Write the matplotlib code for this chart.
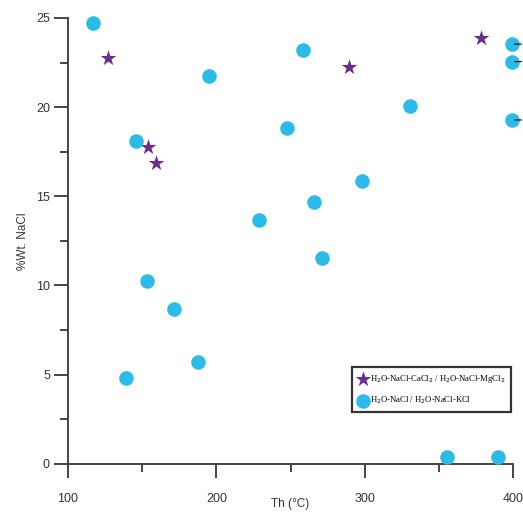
import matplotlib
matplotlib.use('Agg')
import matplotlib.pyplot as plt

# H2O-NaCl / H2O-NaCl-KCl inclusions
th_nacl = [116.9, 195.3, 145.8, 258.2, 247.8, 330.8, 298.4, 266.0, 229.0, 271.0,
           153.5, 171.3, 187.6, 138.9, 355.7, 389.7, 399.1, 399.1, 399.1]
wt_nacl = [24.70, 21.77, 18.10, 23.20, 18.85, 20.07, 15.86, 14.70, 13.68, 11.55,
           10.26, 8.67, 5.73, 4.82, 0.38, 0.38, 23.53, 22.55, 19.28]

# H2O-NaCl-CaCl2 / H2O-NaCl-MgCl2 inclusions
th_ca = [126.8, 154.1, 159.1, 289.6, 378.4]
wt_ca = [22.76, 17.79, 16.86, 22.27, 23.86]

x_ticks = [100, 200, 300, 400]
y_ticks = [0, 5, 10, 15, 20, 25]

plt.rcParams['font.family'] = ['Liberation Sans', 'DejaVu Sans']

fig = plt.figure(figsize=(5.23, 5.12), dpi=100)
ax = fig.add_axes([0.130, 0.094, 0.851, 0.871])

ax.scatter(th_ca, wt_ca, marker='*', s=140, color='#6b2c8e', linewidths=0,
           label='H$_2$O-NaCl-CaCl$_2$ / H$_2$O-NaCl-MgCl$_2$', clip_on=False, zorder=3)
ax.scatter(th_nacl, wt_nacl, marker='o', s=110, color='#2bbbe8', linewidths=0,
           label='H$_2$O-NaCl / H$_2$O-NaCl-KCl', clip_on=False, zorder=3)

# little dashes on the points at the right edge
for x, y in zip(th_nacl, wt_nacl):
    if x > 398:
        ax.annotate('', xy=(x, y), xytext=(9, 0), textcoords='offset points',
                    arrowprops=dict(arrowstyle='-', color='#222222', lw=0.9),
                    annotation_clip=False)

ax.set_xlim(100, 400)
ax.set_ylim(0, 25)
ax.set_xticks(x_ticks)
ax.set_yticks(y_ticks)
ax.set_xticks([150, 250, 350], minor=True)
ax.set_yticks([2.5, 7.5, 12.5, 17.5, 22.5], minor=True)

for s in ['top', 'right']:
    ax.spines[s].set_visible(False)
for s in ['left', 'bottom']:
    ax.spines[s].set_color('#4a4440')
    ax.spines[s].set_linewidth(1.4)

ax.tick_params(axis='both', which='major', length=10, width=1.4, color='#4a4440',
               labelsize=9, labelcolor='#333333')
ax.tick_params(axis='both', which='minor', length=6, width=1.4, color='#4a4440')
ax.tick_params(axis='x', which='major', pad=11)
ax.tick_params(axis='y', which='major', pad=3)

ax.set_xlabel('Th (°C)', fontsize=8.5, color='#333333', labelpad=-5)
ax.set_ylabel('%Wt. NaCl', fontsize=8.5, color='#333333', labelpad=5)

leg = ax.legend(loc='upper left', bbox_to_anchor=(0.632, 0.222), frameon=True,
                fancybox=False, edgecolor='black', handletextpad=0.3,
                borderpad=0.7, labelspacing=1.1, handlelength=1.1,
                borderaxespad=0.3, prop={'family': 'Liberation Serif', 'size': 6.2})
leg.get_frame().set_linewidth(1.6)

fig.savefig('out.png', dpi=100)
